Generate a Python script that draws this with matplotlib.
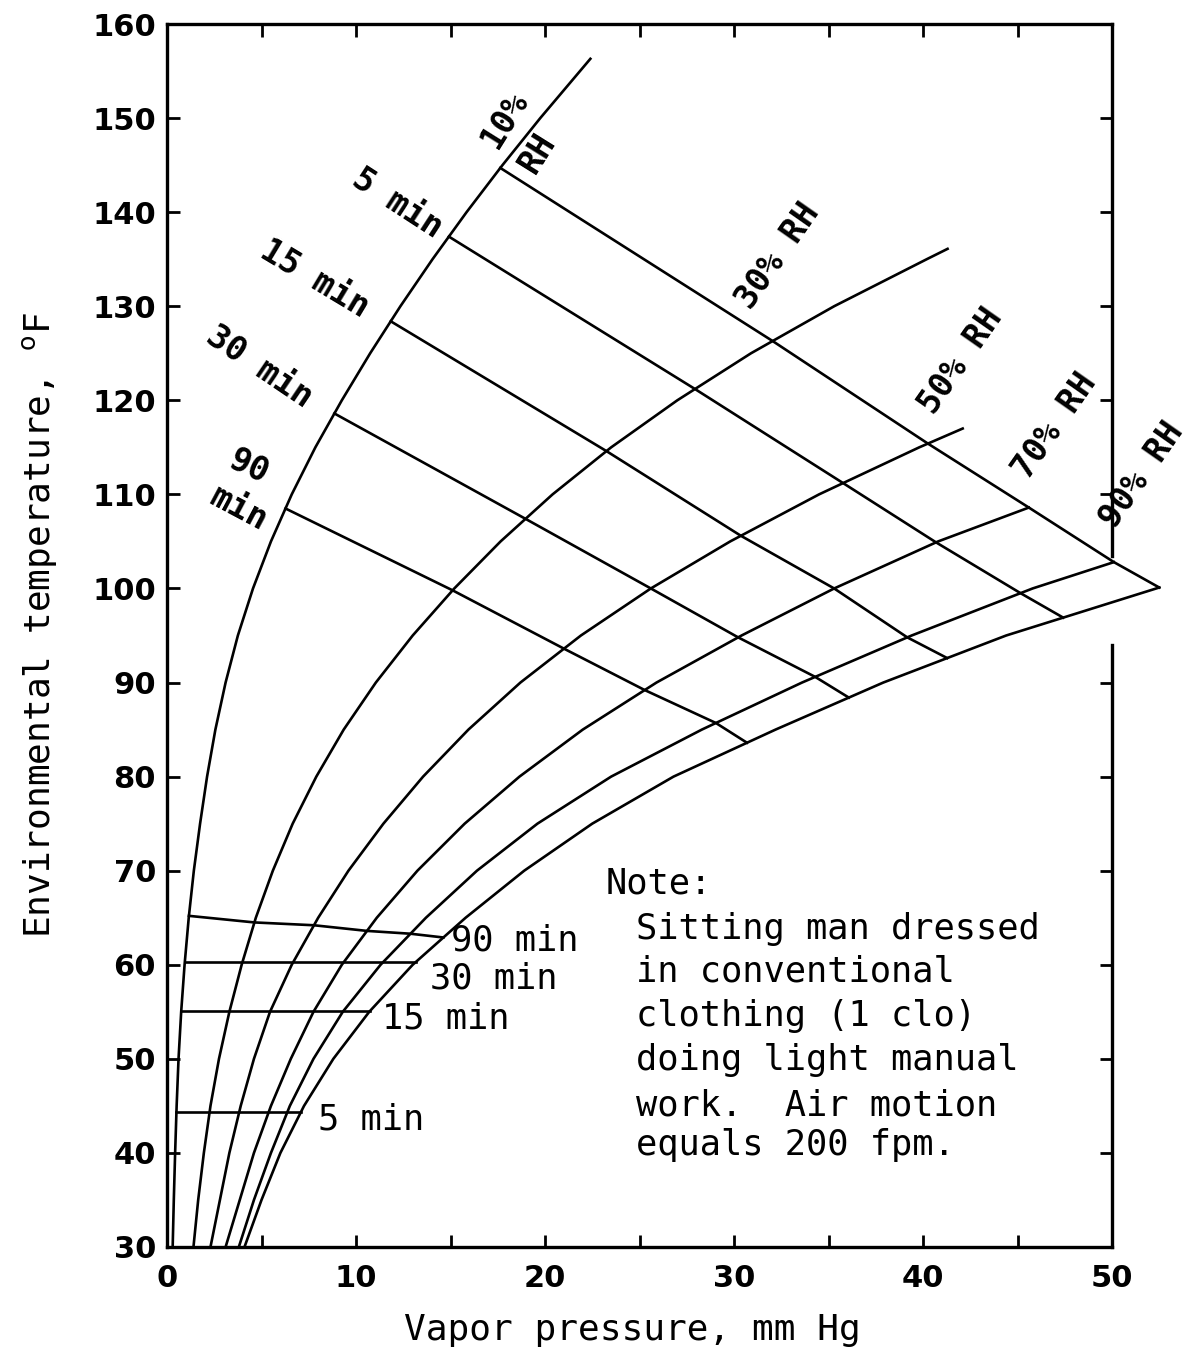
import numpy as np
import matplotlib
matplotlib.use("Agg")
import matplotlib.pyplot as plt
from matplotlib.ticker import MultipleLocator
from matplotlib.lines import Line2D

# ---------------- data ----------------
# RH curves: temperature (deg F) -> vapor pressure (mm Hg)
rh10_T = [30, 35, 40, 45, 50, 55, 60, 65, 70, 75, 80, 85, 90, 95, 100, 105, 110, 115, 120, 125, 130, 135, 140, 145, 150, 156.3]
rh10_p = [0.30, 0.36, 0.43, 0.51, 0.61, 0.75, 0.93, 1.15, 1.42, 1.75, 2.12, 2.56, 3.1, 3.75, 4.55, 5.5, 6.6, 7.85, 9.25, 10.75, 12.35, 14.05, 15.85, 17.75, 19.75, 22.4]

rh30_T = [30, 35, 40, 45, 50, 55, 60, 65, 70, 75, 80, 85, 90, 95, 100, 105, 110, 115, 120, 125, 130, 135, 136.1]
rh30_p = [1.4, 1.65, 1.95, 2.3, 2.75, 3.3, 3.95, 4.7, 5.6, 6.65, 7.9, 9.35, 11.05, 13.0, 15.2, 17.65, 20.4, 23.5, 27.0, 30.9, 35.3, 40.2, 41.3]

rh50_T = [30, 35, 40, 45, 50, 55, 60, 65, 70, 75, 80, 85, 90, 95, 100, 105, 110, 115, 117.0]
rh50_p = [2.3, 2.8, 3.3, 3.9, 4.6, 5.45, 6.6, 8.0, 9.6, 11.45, 13.55, 15.95, 18.7, 21.9, 25.6, 29.8, 34.5, 39.8, 42.1]

rh70_T = [30, 35, 40, 45, 50, 55, 60, 65, 70, 75, 80, 85, 90, 95, 100, 105, 108.6]
rh70_p = [3.1, 3.85, 4.6, 5.5, 6.55, 7.75, 9.25, 11.1, 13.25, 15.75, 18.65, 22.0, 25.9, 30.4, 35.3, 40.8, 45.6]

rh90_T = [30, 35, 40, 45, 50, 55, 60, 65, 70, 75, 80, 85, 90, 95, 100, 102.8]
rh90_p = [3.8, 4.6, 5.5, 6.5, 7.75, 9.3, 11.3, 13.7, 16.4, 19.6, 23.5, 28.3, 33.6, 39.4, 45.8, 50.1]

rh100_T = [30, 35, 40, 45, 50, 55, 60, 65, 70, 75, 80, 85, 90, 95, 100.1]
rh100_p = [4.1, 5.0, 6.0, 7.25, 8.8, 10.7, 13.0, 15.8, 18.9, 22.5, 26.8, 32.2, 37.9, 44.4, 52.5]

rh_curves = [(rh10_T, rh10_p), (rh30_T, rh30_p), (rh50_T, rh50_p),
             (rh70_T, rh70_p), (rh90_T, rh90_p), (rh100_T, rh100_p)]

# tolerance-time lines: temperature where each line crosses the
# 10, 30, 50, 70, 90 % RH curves and the saturation curve
upper_top = [144.7, 126.3, 115.4, 108.6, 102.8, 100.1]
upper_5 = [137.4, 121.2, 111.2, 104.9, 99.5, 96.9]
upper_15 = [128.4, 114.6, 105.6, 100.0, 94.8, 92.6]
upper_30 = [118.6, 107.4, 100.0, 94.8, 90.6, 88.4]
upper_90 = [108.5, 99.8, 93.6, 89.2, 85.7, 83.6]

lower_5 = [44.3, 44.3, 44.3, 44.3, 44.3, 44.3]
lower_15 = [55.1, 55.1, 55.1, 55.1, 55.1, 55.1]
lower_30 = [60.3, 60.3, 60.3, 60.3, 60.3, 60.3]
lower_90 = [65.2, 64.5, 64.2, 63.6, 63.3, 62.9]

time_lines = [upper_top, upper_5, upper_15, upper_30, upper_90,
              lower_5, lower_15, lower_30, lower_90]

x_ticks = [0, 10, 20, 30, 40, 50]
y_ticks = [30, 40, 50, 60, 70, 80, 90, 100, 110, 120, 130, 140, 150, 160]

note_lines = ["Sitting man dressed", "in conventional", "clothing (1 clo)",
              "doing light manual", "work.  Air motion", "equals 200 fpm."]
note_T = [63.8, 59.3, 54.6, 49.9, 45.0, 40.8]

# ---------------- figure ----------------
W, H = 1194, 1359
fig = plt.figure(figsize=(W / 100, H / 100), dpi=100)
ax = fig.add_axes([167 / W, 1 - 1247 / H, (1112 - 167) / W, (1247 - 24) / H])
ax.set_xlim(0, 50)
ax.set_ylim(30, 160)

LW = 1.9
for T, p in rh_curves:
    ax.plot(p, T, color="black", lw=LW, clip_on=False, solid_joinstyle="round")

for line in time_lines:
    xs = [np.interp(t, cT, cp) for t, (cT, cp) in zip(line, rh_curves)]
    ax.plot(xs, line, color="black", lw=LW, clip_on=False, solid_joinstyle="round")

# spines / ticks
for s in ["left", "top", "bottom"]:
    ax.spines[s].set_linewidth(2.4)
ax.spines["right"].set_visible(False)
gap_lo, gap_hi = (94.0 - 30) / 130, (103.5 - 30) / 130
ax.add_line(Line2D([1, 1], [0, gap_lo], transform=ax.transAxes, color="black",
                   lw=2.4, clip_on=False))
ax.add_line(Line2D([1, 1], [gap_hi, 1], transform=ax.transAxes, color="black",
                   lw=2.4, clip_on=False))

ax.set_xticks(x_ticks)
ax.xaxis.set_minor_locator(MultipleLocator(5))
ax.set_yticks(y_ticks)
ax.tick_params(which="both", direction="in", length=9, width=2,
               top=True, bottom=True, left=True, right=False)
ax.tick_params(axis="y", labelsize=22, pad=8)
ax.tick_params(axis="x", labelsize=22, pad=12)
for lab in ax.get_yticklabels():
    lab.set_fontweight("bold")
for lab in ax.get_xticklabels():
    lab.set_fontweight("bold")

ax2 = ax.twinx()
ax2.set_ylim(30, 160)
ax2.set_yticks([30, 40, 50, 60, 70, 80, 90, 110, 120, 130, 140, 150, 160])
ax2.tick_params(direction="in", length=9, width=2, labelright=False)
for s in ax2.spines.values():
    s.set_visible(False)

# labels on the curves
lab_kw = dict(family="DejaVu Sans Mono", fontweight="bold", fontsize=24,
              ha="center", va="center")
ax.text(17.9, 149.9, "10%", rotation=58, **lab_kw)
ax.text(19.6, 146.3, "RH", rotation=58, **lab_kw)
ax.text(32.3, 135.3, "30% RH", rotation=55, **lab_kw)
ax.text(42.0, 124.2, "50% RH", rotation=55, **lab_kw)
ax.text(47.0, 117.3, "70% RH", rotation=55, **lab_kw)
ax.text(51.6, 112.0, "90% RH", rotation=55, clip_on=False, **lab_kw)

ax.text(12.2, 140.9, "5 min", rotation=-33, **lab_kw)
ax.text(7.8, 132.9, "15 min", rotation=-31, **lab_kw)
ax.text(4.9, 123.6, "30 min", rotation=-34, **lab_kw)
ax.text(4.3, 112.9, "90", rotation=-25, **lab_kw)
ax.text(3.8, 108.5, "min", rotation=-28, **lab_kw)

low_kw = dict(family="DejaVu Sans Mono", fontsize=25.5, ha="left", va="center")
ax.text(15.0, 62.6, "90 min", **low_kw)
ax.text(13.9, 58.5, "30 min", **low_kw)
ax.text(11.4, 54.3, "15 min", **low_kw)
ax.text(8.0, 43.5, "5 min", **low_kw)

note_kw = dict(family="DejaVu Sans Mono", fontsize=25.5, ha="left", va="center")
ax.text(23.2, 68.6, "Note:", **note_kw)
for s, t in zip(note_lines, note_T):
    ax.text(24.8, t, s, **note_kw)

fig.text(632 / W, 1 - 1330 / H, "Vapor pressure, mm Hg", family="DejaVu Sans Mono",
         fontsize=26, ha="center", va="center")
fig.text(40 / W, 1 - 625 / H, r"Environmental temperature, $^{\mathrm{o}}$F",
         family="DejaVu Sans Mono", fontsize=26, rotation=90, ha="center", va="center")

fig.savefig("out.png", dpi=100)
